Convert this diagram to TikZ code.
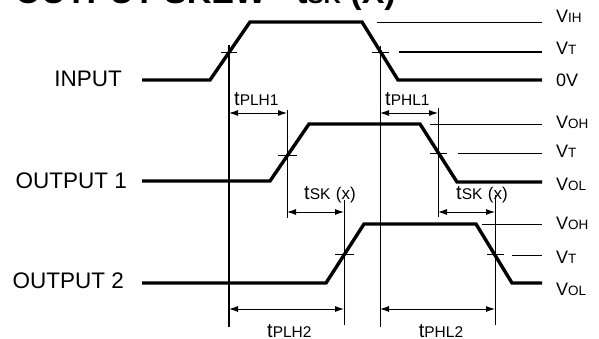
\documentclass[tikz,border=0pt]{standalone}
\usepackage{fontspec}
\setmainfont{Liberation Sans}
\usetikzlibrary{arrows.meta}
\newcommand\smallpart[1]{{\fontsize{13.5}{13.5}\selectfont #1}}
\newcommand\tpart[1]{{\fontsize{15.5}{15.5}\selectfont #1}}
\begin{document}
\begin{tikzpicture}[x=1pt,y=-1pt,
  wave/.style={line width=3.4pt},
  refl/.style={line width=0.9pt},
  vtl/.style={line width=1.4pt},
  guide/.style={line width=1pt},
  guidethick/.style={line width=1.8pt},
  tickl/.style={line width=0.8pt},
  dim/.style={line width=0.9pt,{Latex[length=9pt,width=6pt]}-{Latex[length=9pt,width=6pt]}},
  sig/.style={font=\fontsize{22.5}{22.5}\selectfont, inner sep=0pt, anchor=base east},
  lvl/.style={font=\fontsize{18}{18}\selectfont, inner sep=0pt, anchor=base west},
  tl/.style={font=\fontsize{20}{20}\selectfont, inner sep=0pt, anchor=base west}]
\useasboundingbox (0,0) rectangle (599,339);

% title (mostly outside the page)
\node[inner sep=0pt, anchor=base east, font=\fontsize{34}{34}\selectfont\bfseries] (title) at (396,4)
  {OUTPUT SKEW - t{\fontsize{24}{24}\selectfont SK} (X)};

% ---------- INPUT ----------
\coordinate (i0) at (142,80);
\coordinate (i1) at (210,80);
\coordinate (i2) at (250,22);
\coordinate (i3) at (362,22);
\coordinate (i4) at (398,80);
\coordinate (i5) at (542,80);
\draw[wave] (i0) -- (i1) -- (i2) -- (i3) -- (i4) -- (i5);
\coordinate (vihA) at (377,22);
\coordinate (vihB) at (542,22);
\draw[refl] (vihA) -- (vihB);
\coordinate (vtA) at (399,52);
\coordinate (vtB) at (542,52);
\draw[vtl] (vtA) -- (vtB);
% crossings
\coordinate (c1a) at (221,52); \coordinate (c1b) at (237,52);
\coordinate (c2a) at (372,52); \coordinate (c2b) at (389,52);
\draw[tickl] (c1a) -- (c1b);
\draw[tickl] (c2a) -- (c2b);
\coordinate (g1t) at (229,45); \coordinate (g1b) at (229,327);
\coordinate (g2t) at (380,46); \coordinate (g2b) at (380,327);
\draw[guidethick] (g1t) -- (g1b);
\draw[guide] (g2t) -- (g2b);

\node[sig] (lin) at (122,87) {INPUT};
\node[lvl] (lvih) at (556,23) {V\smallpart{IH}};
\node[lvl] (lvt1) at (556,55) {V\smallpart{T}};
\node[lvl] (l0v) at (556,87) {0V};

% ---------- OUTPUT 1 ----------
\coordinate (a0) at (142,181);
\coordinate (a1) at (270,181);
\coordinate (a2) at (309,124);
\coordinate (a3) at (420,124);
\coordinate (a4) at (457,182);
\coordinate (a5) at (542,182);
\draw[wave] (a0) -- (a1) -- (a2) -- (a3) -- (a4) -- (a5);
\coordinate (voh1A) at (430,124); \coordinate (voh1B) at (542,124);
\draw[refl] (voh1A) -- (voh1B);
\coordinate (vt2A) at (458,153); \coordinate (vt2B) at (542,153);
\draw[refl] (vt2A) -- (vt2B);
\coordinate (c3a) at (278,155); \coordinate (c3b) at (297,155);
\coordinate (c4a) at (430,153); \coordinate (c4b) at (447,153);
\draw[tickl] (c3a) -- (c3b);
\draw[tickl] (c4a) -- (c4b);
\coordinate (g3t) at (287,110); \coordinate (g3b) at (287,218);
\coordinate (g4t) at (438,108); \coordinate (g4b) at (438,217);
\draw[guide] (g3t) -- (g3b);
\draw[guide] (g4t) -- (g4b);

\node[sig] (lo1) at (127,188) {OUTPUT 1};
\node[lvl] (lvoh1) at (556,129) {V\smallpart{OH}};
\node[lvl] (lvt2) at (556,158) {V\smallpart{T}};
\node[lvl] (lvol1) at (556,190) {V\smallpart{OL}};

% ---------- OUTPUT 2 ----------
\coordinate (b0) at (142,283);
\coordinate (b1) at (326,283);
\coordinate (b2) at (364,224);
\coordinate (b3) at (476,224);
\coordinate (b4) at (512,283);
\coordinate (b5) at (542,283);
\draw[wave] (b0) -- (b1) -- (b2) -- (b3) -- (b4) -- (b5);
\coordinate (voh2A) at (482,224); \coordinate (voh2B) at (542,224);
\draw[refl] (voh2A) -- (voh2B);
\coordinate (vt3A) at (512,255); \coordinate (vt3B) at (542,255);
\draw[refl] (vt3A) -- (vt3B);
\coordinate (c5a) at (335,254); \coordinate (c5b) at (354,254);
\coordinate (c6a) at (487,254); \coordinate (c6b) at (504,254);
\draw[tickl] (c5a) -- (c5b);
\draw[tickl] (c6a) -- (c6b);
\coordinate (g5t) at (344,200); \coordinate (g5b) at (344,325);
\coordinate (g6t) at (495,195); \coordinate (g6b) at (495,325);
\draw[guide] (g5t) -- (g5b);
\draw[guide] (g6t) -- (g6b);

\node[sig] (lo2) at (124,288) {OUTPUT 2};
\node[lvl] (lvoh2) at (556,229) {V\smallpart{OH}};
\node[lvl] (lvt3) at (556,263) {V\smallpart{T}};
\node[lvl] (lvol2) at (556,295) {V\smallpart{OL}};

% ---------- dimensions ----------
\coordinate (d1a) at (229,113); \coordinate (d1b) at (287,113);
\coordinate (d2a) at (380,113); \coordinate (d2b) at (438,113);
\coordinate (d3a) at (287,212); \coordinate (d3b) at (344,212);
\coordinate (d4a) at (438,212); \coordinate (d4b) at (495,212);
\coordinate (d5a) at (229,309); \coordinate (d5b) at (344,309);
\coordinate (d6a) at (380,309); \coordinate (d6b) at (495,309);
\draw[dim] (d1a) -- (d1b);
\draw[dim] (d2a) -- (d2b);
\draw[dim] (d3a) -- (d3b);
\draw[dim] (d4a) -- (d4b);
\draw[dim] (d5a) -- (d5b);
\draw[dim] (d6a) -- (d6b);

\node[tl] (tplh1) at (234,106) {t\tpart{PLH1}};
\node[tl] (tphl1) at (385,106) {t\tpart{PHL1}};
\node[tl] (tsk1) at (304,200) {t\tpart{SK} {\fontsize{17}{17}\selectfont (x)}};
\node[tl] (tsk2) at (456,200) {t\tpart{SK} {\fontsize{17}{17}\selectfont (x)}};
\node[tl] (tplh2) at (267,337) {t\tpart{PLH2}};
\node[tl, anchor=base] (tphl2) at (441,337) {t\tpart{PHL2}};
\end{tikzpicture}
\end{document}
